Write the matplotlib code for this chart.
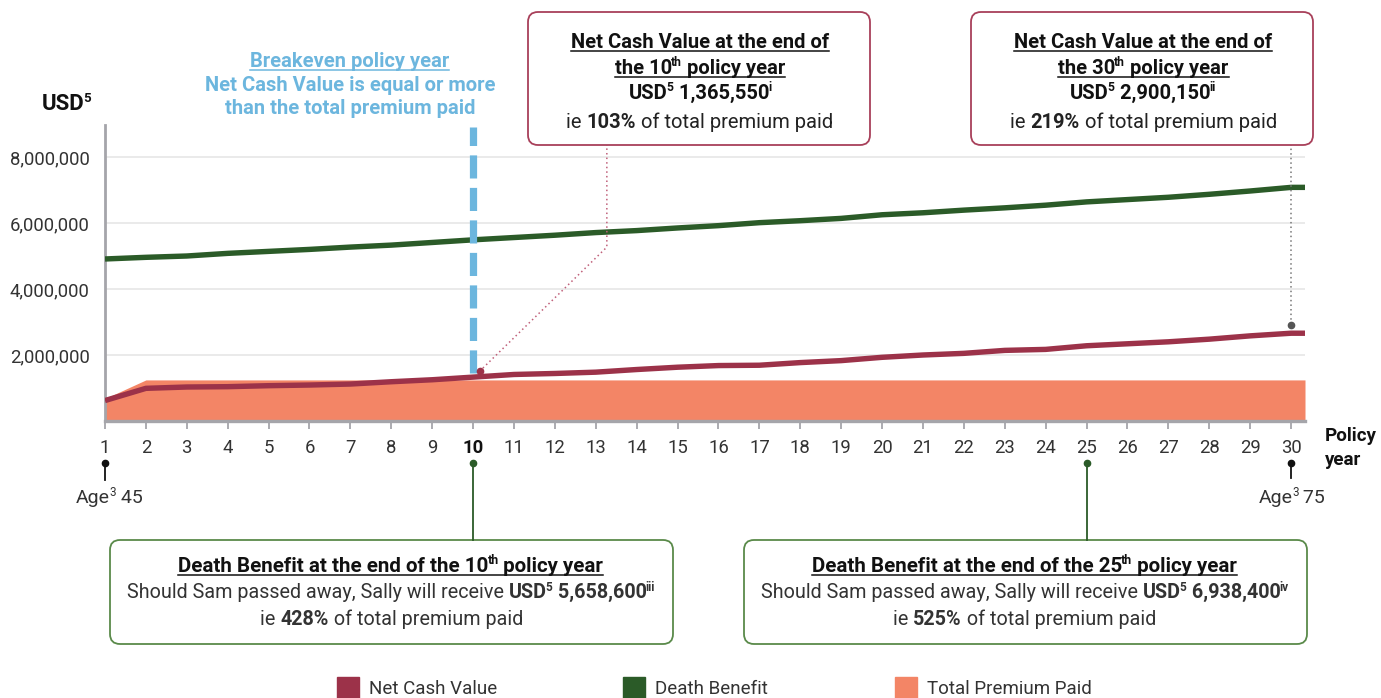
import matplotlib.pyplot as plt
from matplotlib.lines import Line2D
from matplotlib.patches import FancyBboxPatch, Rectangle
from matplotlib.transforms import IdentityTransform, blended_transform_factory

# values in millions of USD
years = list(range(1, 31))
net_cash_value = [0.62, 0.99, 1.03, 1.04, 1.07, 1.09, 1.12, 1.19, 1.25, 1.33,
                  1.41, 1.44, 1.48, 1.56, 1.63, 1.68, 1.69, 1.77, 1.83, 1.93,
                  2.00, 2.05, 2.14, 2.17, 2.28, 2.34, 2.40, 2.48, 2.58, 2.66]
death_benefit = [4.91, 4.96, 5.00, 5.08, 5.14, 5.20, 5.27, 5.33, 5.41, 5.49,
                 5.56, 5.63, 5.71, 5.77, 5.85, 5.92, 6.01, 6.07, 6.14, 6.25,
                 6.31, 6.39, 6.46, 6.54, 6.64, 6.71, 6.78, 6.87, 6.97, 7.08]
total_premium = [0.68] + [1.245] * 29
series_names = ['Net Cash Value', 'Death Benefit', 'Total Premium Paid']
yticks = [2, 4, 6, 8]
breakeven_year = 10

C_NCV = '#9c3249'
C_DB = '#2b5b28'
C_PREM = '#f38566'
C_BLUE = '#6cb6de'
C_TXT = '#333333'
C_AXIS = '#a5a5aa'
BODY = ['Roboto', 'DejaVu Sans']

W, H = 1381, 698
ID = IdentityTransform()

fig = plt.figure(figsize=(W / 100, H / 100), dpi=100)
ax = fig.add_axes([105 / W, 1 - 421 / H, 1200 / W, 296 / H])
x_end = 30.34
ax.set_xlim(1, x_end)
ax.set_ylim(0, 8.97)

ax.fill_between(years + [x_end], total_premium + [total_premium[-1]], 0,
                color=C_PREM, lw=0, zorder=1)
ax.plot(years + [x_end], net_cash_value + [net_cash_value[-1]], color=C_NCV, lw=3.9,
        solid_capstyle='butt', zorder=3)
ax.plot(years + [x_end], death_benefit + [death_benefit[-1]], color=C_DB, lw=3.9,
        solid_capstyle='butt', zorder=3)

# breakeven marker
ax.plot([breakeven_year, breakeven_year], [1.45, 8.9], color=C_BLUE, lw=5.2,
        ls=(0, (3.2, 1.3)), zorder=4, clip_on=False)

ax.set_yticks(yticks)
ax.set_yticklabels([f'{v * 1_000_000:,.0f}' for v in yticks])
ax.set_xticks(years)
ax.set_xticklabels([str(y) for y in years])
ax.grid(axis='y', color='#e6e6e6', lw=1.2, zorder=0)
ax.set_axisbelow(True)
ax.tick_params(axis='y', length=0, pad=11, labelsize=13.3, labelcolor=C_TXT)
ax.tick_params(axis='x', length=6, width=1.3, color=C_AXIS, pad=7, labelsize=13.3,
               labelcolor=C_TXT)
for lab in ax.get_xticklabels() + ax.get_yticklabels():
    lab.set_family(BODY)
ax.get_xticklabels()[breakeven_year - 1].set_fontweight('bold')
ax.get_xticklabels()[breakeven_year - 1].set_color('#111111')
for s in ['top', 'right']:
    ax.spines[s].set_visible(False)
ax.spines['left'].set_color(C_AXIS)
ax.spines['left'].set_linewidth(2)
ax.spines['bottom'].set_color(C_AXIS)
ax.spines['bottom'].set_linewidth(2.4)

renderer = fig.canvas.get_renderer()


def rich(xc, ybase, parts, size=13, family=BODY, color=C_TXT, underline=False,
         align='center'):
    # parts: (text, bold, superscript); ybase measured from top of the image
    placed = []
    x = 0
    for s, bold, sup in parts:
        fs = size * 0.6 if sup else size
        dy = size * 100 / 72 * 0.38 if sup else 0
        if sup:
            x -= 1
        t = fig.text(0, H - ybase + dy, s, transform=ID, fontsize=fs,
                     fontweight='bold' if bold else 'normal', family=family,
                     color=color, va='baseline', ha='left', zorder=6)
        w = t.get_window_extent(renderer).width
        placed.append((t, x))
        x += w
    x0 = round(xc - x / 2) if align == 'center' else xc
    for t, off in placed:
        t.set_x(x0 + off)
    if underline:
        fig.add_artist(Line2D([x0, x0 + x], [H - ybase - 3] * 2, transform=ID,
                              color=color, lw=1.1, zorder=6))


def box(x0, y0, x1, y1, color):
    fig.add_artist(FancyBboxPatch((x0, H - y1), x1 - x0, y1 - y0, transform=ID,
                                  boxstyle='round,pad=0,rounding_size=10',
                                  fc='white', ec=color, lw=1.3, zorder=1))


# y axis unit / x axis label
rich(42, 110, [('USD', True, False), ('5', True, True)], size=16, color='#111111',
     align='left')
rich(1325, 441, [('Policy', True, False)], size=13.5, color='#111111', align='left')
rich(1325, 465, [('year', True, False)], size=13.5, color='#111111', align='left')

# breakeven note
rich(350, 67, [('Breakeven policy year', True, False)], size=14.5, color=C_BLUE,
     underline=True)
rich(350, 91, [('Net Cash Value is equal or more', True, False)], size=14.5, color=C_BLUE)
rich(350, 114, [('than the total premium paid', True, False)], size=14.5, color=C_BLUE)

# top boxes (net cash value)
TOP = 14.5
for cx, yr, amount, note, pct in [(700, '10', ' 1,365,550', 'i', '103%'),
                                  (1143, '30', ' 2,900,150', 'ii', '219%')]:
    box(cx - 172, 12, cx + 170, 145, '#a8405a')
    rich(cx, 48, [('Net Cash Value at the end of', True, False)], size=TOP,
         color='#111111', underline=True)
    rich(cx, 74, [('the ' + yr, True, False), ('th', True, True),
                  (' policy year', True, False)], size=TOP, color='#111111',
         underline=True)
    rich(cx, 99, [('USD', True, False), ('5', True, True), (amount, True, False),
                  (note, True, True)], size=TOP, color='#111111')
    rich(cx, 128, [('ie ', False, False), (pct, True, False),
                   (' of total premium paid', False, False)], size=TOP, color='#222222')

# leaders from the top boxes
ax.plot([13.27, 13.27, 10.17], [8.4, 5.27, 1.52], color='#c0607a', lw=1.1,
        ls=(0, (1, 2)), clip_on=False, zorder=4)
ax.plot([10.17], [1.52], 'o', color=C_NCV, ms=4.5, clip_on=False, zorder=5)
ax.plot([30, 30], [8.4, 2.90], color='#777777', lw=1.1, ls=(0, (1, 2)),
        clip_on=False, zorder=4)
ax.plot([30], [2.90], 'o', color='#555555', ms=4.5, clip_on=False, zorder=5)

# markers below the x axis
bt = blended_transform_factory(ax.transData, ID)
for yr, col, yend in [(1, '#111111', 480), (30, '#111111', 478),
                      (10, C_DB, 540), (25, C_DB, 540)]:
    fig.add_artist(Line2D([yr, yr], [H - 463, H - yend], transform=bt, color=col,
                          lw=1.3))
    fig.add_artist(Line2D([yr], [H - 463], transform=bt, color=col, marker='o', ms=4.5))
rich(109, 503, [('Age', False, False), ('3', False, True), (' 45', False, False)], size=14)
rich(1292, 503, [('Age', False, False), ('3', False, True), (' 75', False, False)], size=14)

# bottom boxes (death benefit)
BOT = 14.2
for cx, yr, amount, note, pct in [(391, '10', ' 5,658,600', 'iii', '428%'),
                                  (1025, '25', ' 6,938,400', 'iv', '525%')]:
    box(cx - 281, 540, cx + 282, 644, '#5a8a4a')
    rich(cx, 572, [('Death Benefit at the end of the ' + yr, True, False),
                   ('th', True, True), (' policy year', True, False)], size=14.8,
         color='#111111', underline=True)
    rich(cx, 598, [('Should Sam passed away, Sally will receive ', False, False),
                   ('USD', True, False), ('5', True, True), (amount, True, False),
                   (note, True, True)], size=BOT)
    rich(cx, 625, [('ie ', False, False), (pct, True, False),
                   (' of total premium paid', False, False)], size=BOT)

# legend
for name, col, lx in zip(series_names, [C_NCV, C_DB, C_PREM], [337, 623, 895]):
    fig.add_artist(Rectangle((lx, 0), 22, 21, transform=ID, color=col))
    rich(lx + 32, 694, [(name, False, False)], size=13.5, align='left')

fig.savefig('out.png', dpi=100)
